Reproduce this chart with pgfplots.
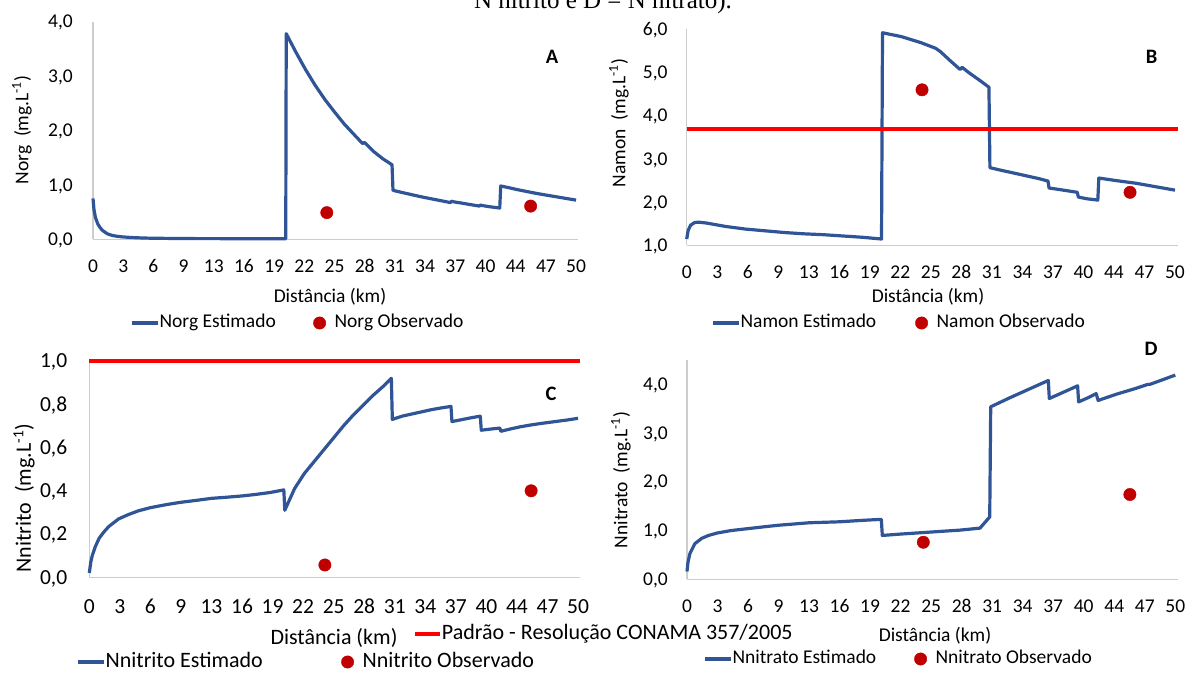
\documentclass[border=0pt]{standalone}
\usepackage{fontspec}
\setmainfont{Carlito}
\newfontfamily\timesfont{Liberation Serif}
\usepackage{pgfplots}
\pgfplotsset{compat=1.18}
\definecolor{lineblue}{RGB}{47,85,151}
\definecolor{dotred}{RGB}{192,0,0}
\definecolor{stdred}{RGB}{255,0,0}
\definecolor{axgray}{RGB}{205,205,205}
\newcommand{\fA}{\fontsize{19.5}{23}\selectfont}
\newcommand{\fC}{\fontsize{22}{26}\selectfont}
\newcommand{\fCt}{\fontsize{21.5}{25}\selectfont}
\newcommand{\fL}{\fontsize{20.5}{24}\selectfont\bfseries}

\pgfplotsset{
  panel/.style={
    scale only axis, clip=false,
    axis x line*=bottom, axis y line*=left,
    axis line style={draw=axgray, line width=1.4pt},
    major tick length=0pt,
    xmin=0,
    xtick={0,3.125,...,50},
    xticklabels={0,3,6,9,13,16,19,22,25,28,31,34,37,40,44,47,50},
    tick label style={font=\fA, inner sep=0pt, text depth=0pt, text height=12.3pt},
    xticklabel style={anchor=center, yshift=-27pt},
    yticklabel style={anchor=center, xshift=-31.5pt},
    legend columns=2,
    legend style={draw=none, fill=none, inner sep=0pt, outer sep=0pt,
      column sep=0pt, font=\fA,
      nodes={inner sep=0pt, text height=13pt, text depth=3.9pt, anchor=west}},
  },
  panelC/.style={
    tick label style={font=\fCt, text height=13.6pt},
    xticklabel style={yshift=-2.4pt},
    yticklabel style={xshift=-4.2pt},
    legend style={font=\fC, nodes={text height=14.6pt, text depth=4.4pt}},
  },
  estline/.style={color=lineblue, line width=3.2pt, line join=round,
    legend image code/.code={\draw[##1] (0pt,0pt) -- (26pt,0pt); \path[draw=none] (28pt,0pt);}},
  obsdots/.style={only marks, color=dotred, mark=*, mark size=6.2pt,
    mark options={fill=dotred, draw=none},
    legend image code/.code={\path[draw=none,fill=none] (0pt,0pt) (28pt,0pt); \draw[##1] plot coordinates {(13pt,0pt)};}},
  stdline/.style={color=stdred, line width=3.8pt,
    legend image code/.code={\draw[##1] (0pt,0pt) -- (25pt,0pt); \path[draw=none] (27pt,0pt);}},
}

\begin{document}
\begin{tikzpicture}
% ---------------- Panel A ----------------
\begin{axis}[panel,
  at={(93pt,432.7pt)}, anchor=south west, width=485pt, height=217.6pt,
  xmax=50.2, ymin=0, ymax=4,
  ytick={0,1,2,3,4}, yticklabels={{0,0},{1,0},{2,0},{3,0},{4,0}},
  yticklabel style={xshift=-1pt},
  legend style={at={(0.0763,-0.3847)}, anchor=west}]
\addplot[estline] coordinates {
(0,0.75) (0.1,0.55) (0.25,0.40) (0.5,0.28) (0.75,0.21) (1,0.16) (1.5,0.10)
(2,0.07) (2.5,0.055) (3,0.045) (4,0.032) (5,0.025) (6,0.02) (8,0.016)
(10,0.013) (13,0.012) (16,0.01) (19.95,0.01) (20.0,3.78) (21,3.44) (22,3.12)
(23,2.83) (24,2.57) (25,2.34) (26,2.12) (27,1.93) (27.9,1.76) (28.1,1.78)
(29,1.62) (30,1.48) (30.95,1.37) (31.05,0.90) (32,0.86) (33,0.82) (34,0.78)
(35,0.745) (36,0.71) (37.0,0.675) (37.1,0.70) (37.3,0.69) (38,0.67) (39,0.64)
(40.0,0.61) (40.1,0.63) (40.3,0.62) (41,0.60) (42.1,0.575) (42.2,0.98)
(43,0.95) (44,0.91) (45,0.875) (46,0.84) (47,0.81) (48,0.78) (49,0.75) (50,0.72)
};
\addlegendentry{\makebox[147pt][l]{Norg Estimado}}
\addplot[obsdots] coordinates {(24.2,0.49) (45.3,0.61)};
\addlegendentry{Norg Observado}
\end{axis}

% ---------------- Panel B ----------------
\begin{axis}[panel,
  at={(686.7pt,426.5pt)}, anchor=south west, width=491pt, height=216.2pt,
  xmax=50.28, ymin=1, ymax=6,
  ytick={1,2,3,4,5,6}, yticklabels={{1,0},{2,0},{3,0},{4,0},{5,0},{6,0}},
  legend style={at={(0.0495,-0.3585)}, anchor=west}]
\addplot[estline] coordinates {
(0,1.15) (0.15,1.35) (0.4,1.47) (0.8,1.53) (1.2,1.54) (2,1.52) (3,1.48)
(4,1.44) (5,1.41) (6,1.38) (8,1.34) (10,1.30) (12,1.27) (14,1.25) (16,1.22)
(18,1.19) (19.95,1.15) (20.05,5.92) (22,5.83) (24,5.69) (25.5,5.56) (26,5.48)
(27,5.27) (28,5.07) (28.2,5.12) (29,4.98) (30,4.82) (30.95,4.66) (31.05,2.80)
(32,2.75) (34,2.65) (36,2.55) (37.0,2.49) (37.1,2.33) (38,2.30) (40.0,2.23)
(40.1,2.12) (41,2.08) (42.1,2.05) (42.2,2.56) (44,2.50) (46,2.44) (48,2.36)
(50,2.28)
};
\addlegendentry{\makebox[168pt][l]{Namon Estimado}}
\addplot[obsdots] coordinates {(24.1,4.60) (45.4,2.23)};
\addlegendentry{Namon Observado}
\addplot[stdline, forget plot] coordinates {(0,3.7) (50.28,3.7)};
\end{axis}

% ---------------- Panel C ----------------
\begin{axis}[panel, panelC,
  at={(89.3pt,94.7pt)}, anchor=south west, width=490.7pt, height=216.3pt,
  xmax=50.2, ymin=0, ymax=1,
  ytick={0,0.2,0.4,0.6,0.8,1}, yticklabels={{0,0},{0,2},{0,4},{0,6},{0,8},{1,0}},
  legend style={at={(-0.0271,-0.3916)}, anchor=west}]
\addplot[estline] coordinates {
(0,0.02) (0.15,0.07) (0.3,0.10) (0.6,0.14) (1,0.18) (1.5,0.21) (2,0.235)
(3,0.27) (4,0.29) (5,0.307) (6.25,0.322) (8,0.337) (9.4,0.347) (11,0.356)
(12.5,0.365) (14,0.370) (15.6,0.376) (17,0.383) (18.5,0.392) (19.9,0.404)
(20.0,0.31) (20.5,0.36) (21,0.41) (22,0.48) (23,0.535) (24,0.59) (25,0.645)
(26,0.70) (27,0.75) (28,0.795) (29,0.84) (30,0.88) (30.9,0.92) (31.0,0.73)
(32,0.745) (33,0.755) (34,0.765) (35,0.775) (36,0.783) (37.0,0.79) (37.1,0.72)
(38,0.728) (39,0.737) (40.0,0.745) (40.1,0.68) (41,0.685) (42.0,0.69)
(42.1,0.675) (43,0.685) (44,0.695) (45,0.703) (46,0.71) (47,0.716) (48,0.722)
(49,0.728) (50,0.735)
};
\addlegendentry{\makebox[229pt][l]{Nnitrito Estimado}}
\addplot[obsdots] coordinates {(24.1,0.057) (45.2,0.40)};
\addlegendentry{Nnitrito Observado}
\end{axis}
\begin{axis}[panel, panelC, hide axis,
  at={(89.3pt,94.7pt)}, anchor=south west, width=490.7pt, height=216.3pt,
  xmax=50.2, ymin=0, ymax=1,
  legend style={at={(0.6597,-0.2621)}, anchor=west}]
\addplot[stdline] coordinates {(0,1) (50.2,1)};
\addlegendentry{Padrão - Resolução CONAMA 357/2005}
\end{axis}

% ---------------- Panel D ----------------
\begin{axis}[panel,
  at={(687pt,92.7pt)}, anchor=south west, width=491pt, height=219.3pt,
  xmax=50.28, ymin=0, ymax=4.5,
  ytick={0,1,2,3,4}, yticklabels={{0,0},{1,0},{2,0},{3,0},{4,0}},
  legend style={at={(0.0326,-0.3634)}, anchor=west}]
\addplot[estline] coordinates {
(0,0.16) (0.1,0.35) (0.3,0.53) (0.8,0.73) (1.5,0.84) (2.2,0.90) (3.1,0.95)
(4.5,1.00) (6.25,1.04) (8,1.08) (9.4,1.11) (12.5,1.16) (15.6,1.18) (18,1.21)
(19.9,1.23) (20.0,0.90) (22,0.93) (25,0.97) (28,1.01) (30,1.05) (31.0,1.28)
(31.1,3.54) (33,3.72) (35,3.90) (37.0,4.08) (37.1,3.71) (38,3.79) (40.0,3.97)
(40.1,3.64) (41,3.72) (41.9,3.81) (42.1,3.67) (44,3.80) (46,3.92) (47.2,4.00)
(47.4,4.00) (48.5,4.08) (50,4.19)
};
\addlegendentry{\makebox[175pt][l]{Nnitrato Estimado}}
\addplot[obsdots] coordinates {(24.2,0.76) (45.35,1.74)};
\addlegendentry{Nnitrato Observado}
\end{axis}

% ---------------- Texts ----------------
\node[font=\timesfont\fontsize{25}{30}\selectfont, anchor=base] at (603pt,663pt) {N nitrito e D = N nitrato).};
\node[font=\fL] at (552pt,615pt) {A};
\node[font=\fL] at (1151.6pt,614.7pt) {B};
\node[font=\fL] at (551pt,278pt) {C};
\node[font=\fL] at (1151pt,323pt) {D};
\node[font=\fA] at (330pt,375pt) {Distância (km)};
\node[font=\fA] at (928pt,375pt) {Distância (km)};
\node[font=\fC] at (334pt,34.3pt) {Distância (km)};
\node[font=\fA] at (935pt,36pt) {Distância (km)};
\node[font=\fA, rotate=90] at (22pt,542pt) {Norg\hspace{0.45em}(mg.L\textsuperscript{-1})};
\node[font=\fA, rotate=90] at (619pt,549pt) {Namon\hspace{0.45em}(mg.L\textsuperscript{-1})};
\node[font=\fC, rotate=90] at (24pt,174pt) {Nnitrito\hspace{0.45em}(mg.L\textsuperscript{-1})};
\node[font=\fA, rotate=90] at (621pt,192pt) {Nnitrato\hspace{0.45em}(mg.L\textsuperscript{-1})};
\pgfresetboundingbox
\path[use as bounding box] (0pt,0pt) rectangle (1196pt,672pt);
\end{tikzpicture}
\end{document}
